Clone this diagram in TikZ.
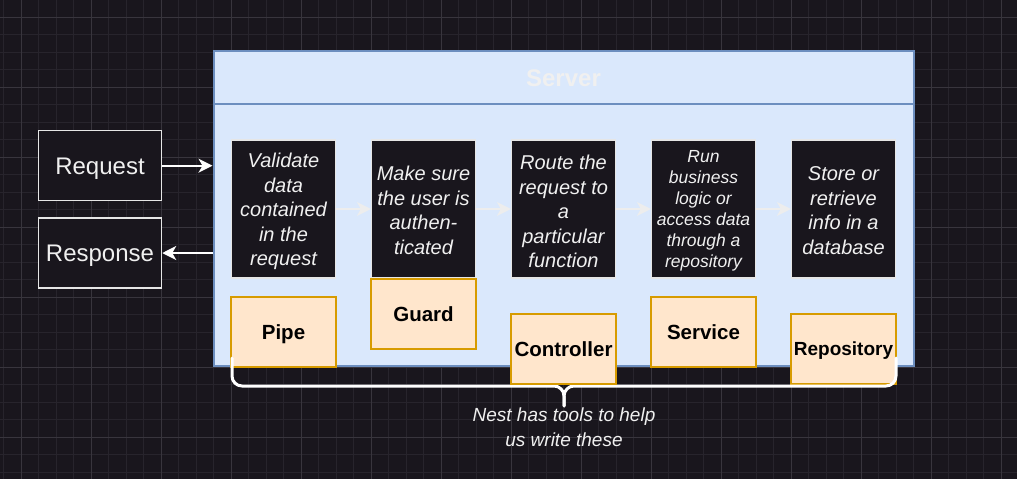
\documentclass[tikz,border=0pt]{standalone}
\usepackage{fontspec}
\setmainfont{Liberation Sans}
\usetikzlibrary{arrows.meta}
\definecolor{bg}{HTML}{19161D}
\definecolor{gridminor}{HTML}{27242C}
\definecolor{gridmajor}{HTML}{38353D}
\definecolor{srvfill}{HTML}{DAE8FC}
\definecolor{srvline}{HTML}{6C8EBF}
\definecolor{orfill}{HTML}{FFE6CC}
\definecolor{orline}{HTML}{D79B00}
\definecolor{boxline}{HTML}{E6E6E6}
\definecolor{flowarrow}{HTML}{EDEDED}
\definecolor{txtwhite}{HTML}{F0F0F0}
\tikzset{
  desc/.style={draw=boxline, line width=1.2pt, fill=bg, minimum width=104pt,
    minimum height=138pt, inner sep=0pt},
  desctext/.style={text=txtwhite, inner sep=0pt, align=center, font=\itshape\fontsize{20}{24.6}\selectfont},
  tool/.style={draw=orline, line width=1.5pt, fill=orfill, text=black, minimum width=105pt,
    minimum height=70pt, inner sep=0pt, text height=14.7pt, text depth=0pt,
    font=\bfseries\fontsize{20.5}{24}\selectfont},
  iobox/.style={draw=boxline, line width=1.5pt, fill=bg, text=txtwhite, minimum width=123pt,
    minimum height=70pt, inner sep=0pt, text height=17.2pt, text depth=0pt,
    font=\fontsize{24}{28}\selectfont},
  conn/.style={draw=white, line width=1.6pt, -{Stealth[length=14pt,width=14pt,inset=4pt]}},
  flow/.style={draw=flowarrow, line width=1.4pt, -{Stealth[length=14pt,width=14pt,inset=4pt]}},
  bracestyle/.style={draw=white, line width=3pt, rounded corners=10pt, line cap=round},
}
\begin{document}
\begin{tikzpicture}[x=1pt,y=-1pt]
\useasboundingbox (0,0) rectangle (1017,479);
\fill[bg] (0,0) rectangle (1017,479);
% grid
\foreach \i in {0,...,58} {\draw[gridminor, line width=0.8pt] (3.5+17.5*\i,0) -- (3.5+17.5*\i,479);}
\foreach \j in {0,...,28} {\draw[gridminor, line width=0.8pt] (0,-0.5+17.5*\j) -- (1017,-0.5+17.5*\j);}
\foreach \i in {0,...,14} {\draw[gridmajor, line width=1pt] (21+70*\i,0) -- (21+70*\i,479);}
\foreach \j in {0,...,6} {\draw[gridmajor, line width=1pt] (0,17+70*\j) -- (1017,17+70*\j);}

% server container
\node[draw=srvline, line width=2pt, fill=srvfill, minimum width=700pt, minimum height=315pt, inner sep=0pt] (srv) at (563.5,208.5) {};
\draw[srvline, line width=2pt] (srv.west |- 0,103.5) -- (srv.east |- 0,103.5);
\node[text=txtwhite, inner sep=0pt, text height=17.2pt, text depth=0pt, font=\bfseries\fontsize{24}{28}\selectfont] (title) at (563.5,78) {Server};

% request / response
\node[iobox] (req) at (100,165.7) {Request};
\node[iobox] (res) at (100,253) {Response};
\draw[conn] (req.east) -- (req.east -| srv.west);
\draw[conn] (res.east -| srv.west) -- (res.east);

% description boxes
\node[desc] (d1) at (283.5,209) {};
\node[desc] (d2) at (423.5,209) {};
\node[desc] (d3) at (563.5,209) {};
\node[desc] (d4) at (703.5,209) {};
\node[desc] (d5) at (843.5,209) {};
\node[desctext] (t1) at ([yshift=-2.5pt]d1.center) {Validate\\data\\contained\\in the\\request};
\node[desctext] (t2) at ([yshift=-1.5pt]d2.center) {Make sure\\the user is\\authen-\\ticated};
\node[desctext] (t3) at ([yshift=-2.5pt]d3.center) {Route the\\request to\\a\\particular\\function};
\node[desctext, font=\itshape\fontsize{17.5}{21}\selectfont] (t4) at ([yshift=-2pt]d4.center) {Run\\business\\logic or\\access data\\through a\\repository};
\node[desctext] (t5) at ([yshift=-1.5pt]d5.center) {Store or\\retrieve\\info in a\\database};
\draw[flow] (d1.east) -- (d2.west);
\draw[flow] (d2.east) -- (d3.west);
\draw[flow] (d3.east) -- (d4.west);
\draw[flow] (d4.east) -- (d5.west);

% tool boxes
\node[tool] (pipe) at (283.5,332) {Pipe};
\node[tool] (guard) at (423.5,314) {Guard};
\node[tool] (service) at (703.5,332) {Service};
\node[tool, font=\bfseries\fontsize{19}{23}\selectfont, text height=13.6pt] (repo) at (843.5,349) {Repository};

% brace
\coordinate (bl) at (232,358);
\coordinate (br) at (896,358);
\coordinate (bm) at (564,386);
\coordinate (tip) at (564,406);
\draw[bracestyle] (bl) |- (bm) -- (tip);
\draw[bracestyle] (br) |- (bm) -- (tip);

\node[tool] (ctrl) at (563.5,349) {Controller};

\node[text=txtwhite, align=center, font=\itshape\fontsize{19}{24.5}\selectfont] (note) at (564,427) {Nest has tools to help\\us write these};
\end{tikzpicture}
\end{document}
